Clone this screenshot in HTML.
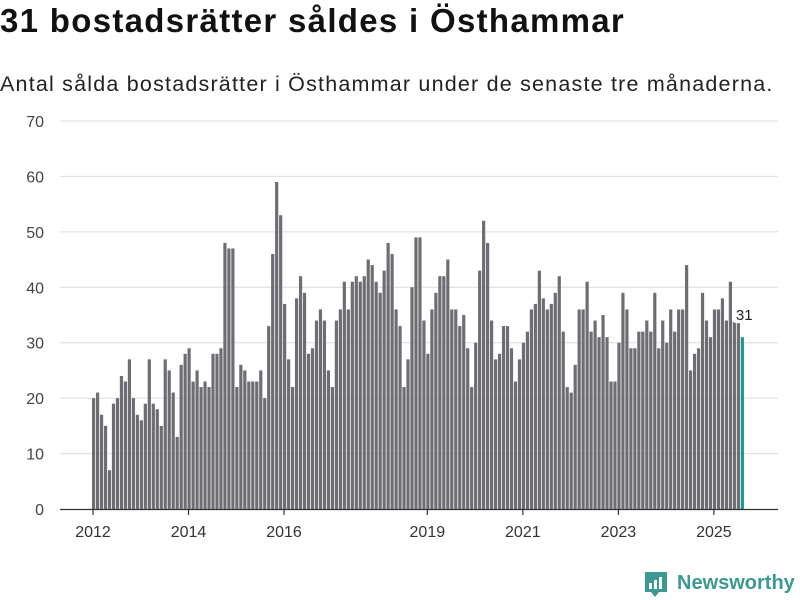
<!DOCTYPE html>
<html><head><meta charset="utf-8">
<style>
body{margin:0;background:#fff;width:800px;height:600px;overflow:hidden;font-family:"Liberation Sans","DejaVu Sans",sans-serif;}
#title{position:absolute;left:0;top:2px;font-size:33px;font-weight:bold;color:#111;margin:0;letter-spacing:1.3px;white-space:nowrap}
#sub{position:absolute;left:0;top:72px;font-size:21.5px;color:#222;letter-spacing:1.2px;white-space:nowrap}
svg{position:absolute;left:0;top:0}
</style></head><body>
<h1 id="title">31 bostadsrätter såldes i Östhammar</h1>
<div id="sub">Antal sålda bostadsrätter i Östhammar under de senaste tre månaderna.</div>
<svg id="chart" width="800" height="600"></svg>
<script>
const values = [
20,21,17,15,7,19,20,24,23,27,20,17,
16,19,27,19,18,15,27,25,21,13,26,28,
29,23,25,22,23,22,28,28,29,48,47,47,
22,26,25,23,23,23,25,20,33,46,59,53,
37,27,22,38,42,39,28,29,34,36,34,25,
22,34,36,41,36,41,42,41,42,45,44,41,
39,43,48,46,36,33,22,27,40,49,49,34,
28,36,39,42,42,45,36,36,33,35,29,22,
30,43,52,48,34,27,28,33,33,29,23,27,
30,32,36,37,43,38,36,37,39,42,32,22,
21,26,36,36,41,32,34,31,35,31,23,23,
30,39,36,29,29,32,32,34,32,39,29,34,
30,36,32,36,36,44,25,28,29,39,34,31,
36,36,38,34,41,35,34,31];
const startYear = 2012;
const yTicks = [0,10,20,30,40,50,60,70];
const xTickYears = [2012,2014,2016,2019,2021,2023,2025];

const NS="http://www.w3.org/2000/svg";
const svg=document.getElementById('chart');
const y0=509, yPerUnit=(509-121)/70;
const x0=92, monthW=3.98;
function yScale(v){return y0-v*yPerUnit;}
function xScale(i){return x0+i*monthW;}
function mk(tag,attrs){const e=document.createElementNS(NS,tag);for(const k in attrs)e.setAttribute(k,attrs[k]);svg.appendChild(e);return e;}

yTicks.forEach(t=>{
  if(t>0){const g=mk('line',{x1:60,x2:778,y1:yScale(t),y2:yScale(t),stroke:'#dcdcdc','stroke-width':1});
  
  }
  const l=mk('text',{x:44,y:yScale(t)+6,'text-anchor':'end','font-size':16,fill:'#444'});
  l.textContent=t;
  
  
});
values.forEach((v,i)=>{
  const last=i===values.length-1;
  const b=mk('rect',{x:xScale(i),y:yScale(v),width:3.2,height:v*yPerUnit,fill:last?'#1a9a8c':'#6e6d73'});
  
  
});
const ax=mk('line',{x1:60,x2:778,y1:y0+0.5,y2:y0+0.5,stroke:'#333','stroke-width':1.2});


xTickYears.forEach(yr=>{
  const x=xScale((yr-startYear)*12)+1;
  const t=mk('line',{x1:x,x2:x,y1:y0,y2:y0+6,stroke:'#333','stroke-width':1.2});
  
  
  const l=mk('text',{x:x,y:537,'text-anchor':'middle','font-size':16,fill:'#333'});
  l.textContent=yr;
  
  
});
const li=values.length-1;
const lx=xScale(li)+1.5, ly=yScale(values[li])-19;
const bg=mk('rect',{x:lx-10,y:ly-13,width:20,height:18,rx:4,fill:'#fff'});


const lt=mk('text',{x:lx+2,y:ly+2,'text-anchor':'middle','font-size':15,fill:'#222'});
lt.textContent=values[li];



const lg=mk('path',{d:'M645 572 h22 v20 h-8 l-4 5 l-4 -5 h-6 z',fill:'#3a9a91'});


[[649,583,3,6],[654,580,3,9],[659,577,3,12]].forEach((r,k)=>{
  const e=mk('rect',{x:r[0],y:r[1],width:r[2],height:r[3],fill:'#fff'});
  
  
});
const lw=mk('text',{x:677,y:589,'font-size':20,'font-weight':'bold',fill:'#3a9a91'});
lw.textContent='Newsworthy';


</script>
</body></html>
